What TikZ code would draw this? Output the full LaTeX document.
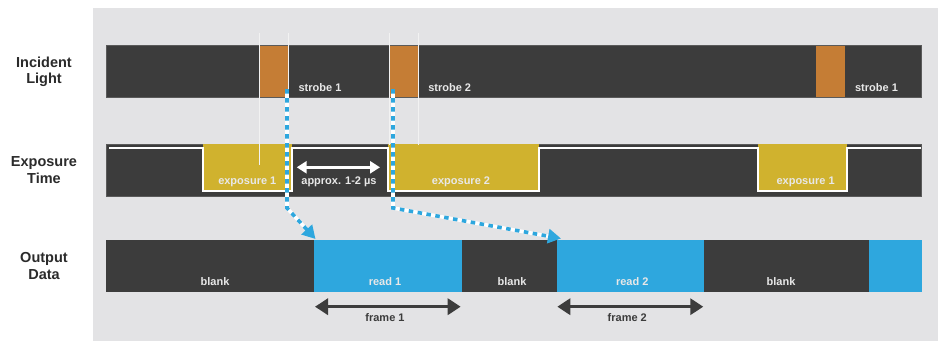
\documentclass[tikz,border=0pt]{standalone}
\usepackage{fontspec}
\setmainfont{Liberation Sans}
\usetikzlibrary{arrows.meta}
\definecolor{panel}{HTML}{E3E3E5}
\definecolor{barc}{HTML}{3C3C3C}
\definecolor{barline}{HTML}{5A5A5A}
\definecolor{strobec}{HTML}{C57D35}
\definecolor{expoc}{HTML}{D0B22E}
\definecolor{readc}{HTML}{2EA7DE}
\definecolor{bartext}{HTML}{E8E8E8}
\definecolor{labeltext}{HTML}{2B2B2B}
\definecolor{guide}{HTML}{F2F2F2}
\begin{document}
\begin{tikzpicture}[x=1pt,y=-1pt,
  bartxt/.style={font=\bfseries\fontsize{11}{13}\selectfont, text=bartext, anchor=base, inner sep=0pt},
  frametxt/.style={font=\bfseries\fontsize{11}{13}\selectfont, text=barc, anchor=base, inner sep=0pt},
  rowlabel/.style={font=\bfseries\fontsize{14.5}{16.5}\selectfont, text=labeltext, align=center, inner sep=0pt},
  darkbar/.style={fill=barc},
  guideline/.style={draw=guide, line width=0.8pt},
  flowunder/.style={draw=white, line width=3.6pt, shorten >=9pt},
  flow/.style={draw=readc, line width=3.6pt, dash pattern=on 4.5pt off 4.5pt, -{Triangle[length=13pt,width=14pt]}},
  framearrow/.style={draw=barc, line width=3.3pt, {Triangle[length=13pt,width=16pt]}-{Triangle[length=13pt,width=16pt]}},
  gaparrow/.style={draw=white, line width=2.8pt, {Triangle[length=10pt,width=12pt]}-{Triangle[length=10pt,width=12pt]}},
  wave/.style={draw=white, line width=2pt}
]
\useasboundingbox (0,0) rectangle (938,341);
\fill[white] (0,0) rectangle (938,341);
\fill[panel] (93,8) rectangle (938,341);

% row labels
\node[rowlabel] (lblLight) at (44,72) {Incident\\Light};
\node[rowlabel] (lblExpo) at (44,170) {Exposure\\Time};
\node[rowlabel] (lblOut) at (44,266) {Output\\Data};

% Incident light bar
\fill[darkbar, draw=barline, line width=0.6pt] (106,45.3) rectangle (921.5,97.3);
\fill[strobec] (259.5,45.6) rectangle (288.7,97);
\fill[strobec] (389,45.6) rectangle (418.3,97);
\fill[strobec] (816,45.6) rectangle (845,97);

% Exposure bar
\fill[darkbar, draw=barline, line width=0.6pt] (106,144) rectangle (921.5,196.5);
\fill[expoc] (202.5,144.3) rectangle (292,191);
\fill[expoc] (388,144.3) rectangle (538.5,191);
\fill[expoc] (758,144.3) rectangle (847,191);
\draw[wave] (109,147.5) -- (202.5,147.5) -- (202.5,191) -- (292,191) -- (292,147.5)
  -- (388,147.5) -- (388,191) -- (538.5,191) -- (538.5,147.5) -- (758,147.5)
  -- (758,191) -- (847,191) -- (847,147.5) -- (920.5,147.5);

% guide lines
\draw[guideline] (259.5,33) -- (259.5,165);
\draw[guideline] (288.7,33) -- (288.7,145);
\draw[guideline] (389,33) -- (389,145);
\draw[guideline] (418.3,33) -- (418.3,145);

% Output bar
\fill[darkbar] (106,240) rectangle (314,291.7);
\fill[readc] (314,240) rectangle (461.7,291.7);
\fill[darkbar] (461.7,240) rectangle (556.7,291.7);
\fill[readc] (556.7,240) rectangle (704,291.7);
\fill[darkbar] (704,240) rectangle (868.7,291.7);
\fill[readc] (868.7,240) rectangle (922,291.7);

% bar texts
\node[bartxt] (tS1) at (320,91.5) {strobe 1};
\node[bartxt] (tS2) at (449.7,91.5) {strobe 2};
\node[bartxt] (tS3) at (876.5,91.5) {strobe 1};
\node[bartxt] (tE1) at (247.3,184.5) {exposure 1};
\node[bartxt] (tGap) at (339,184.5) {approx. 1-2 µs};
\node[bartxt] (tE2) at (461,184.5) {exposure 2};
\node[bartxt] (tE3) at (805.6,184.5) {exposure 1};
\node[bartxt] (tB1) at (215,285.7) {blank};
\node[bartxt] (tR1) at (385,285.7) {read 1};
\node[bartxt] (tB2) at (512,285.7) {blank};
\node[bartxt] (tR2) at (632.3,285.7) {read 2};
\node[bartxt] (tB3) at (781,285.7) {blank};

% gap arrow
\coordinate (gA) at (296.7,167.3);
\coordinate (gB) at (380,167.3);
\draw[gaparrow] (gA) -- (gB);

% flow arrows
\coordinate (s1) at (287,89);
\coordinate (k1) at (287,208);
\coordinate (r1) at (315.5,239);
\draw[flowunder] (s1) -- (k1) -- (r1);
\draw[flow] (s1) -- (k1) -- (r1);
\coordinate (s2) at (393,89);
\coordinate (k2) at (393,208);
\coordinate (r2) at (561,238.5);
\draw[flowunder] (s2) -- (k2) -- (r2);
\draw[flow] (s2) -- (k2) -- (r2);

% frame arrows
\coordinate (f1a) at (315,306.7);
\coordinate (f1b) at (460.7,306.7);
\draw[framearrow] (f1a) -- (f1b);
\node[frametxt] (tF1) at (385,321) {frame 1};
\coordinate (f2a) at (557.3,306.7);
\coordinate (f2b) at (703.3,306.7);
\draw[framearrow] (f2a) -- (f2b);
\node[frametxt] (tF2) at (627.3,321) {frame 2};
\end{tikzpicture}
\end{document}
